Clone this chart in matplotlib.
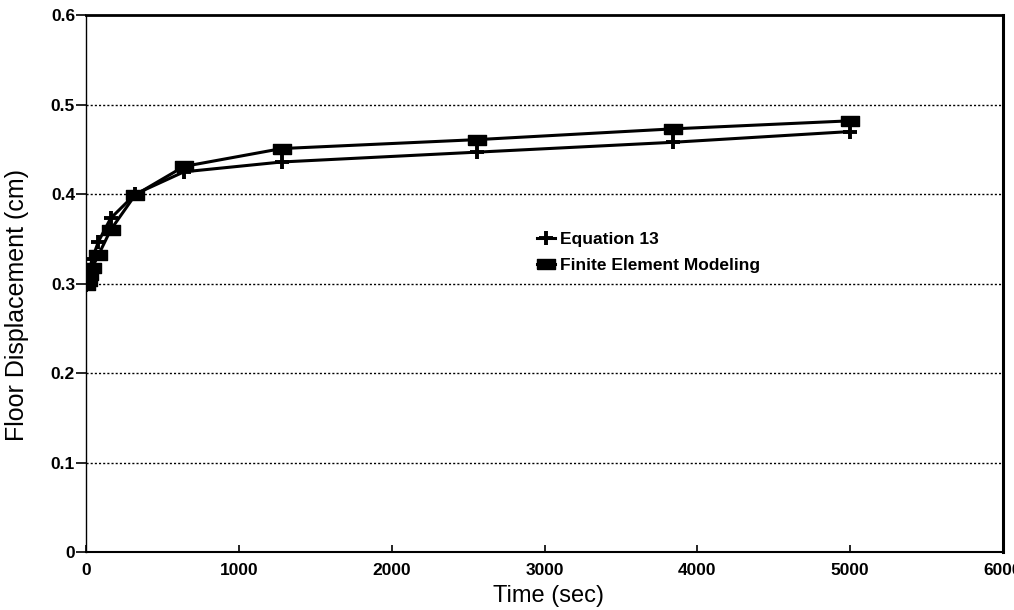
import matplotlib.pyplot as plt

# Datos
tiempo = [0, 10, 20, 40, 80, 160, 320, 640, 1280, 2560, 3840, 5000]
ecuacion_13 = [0.298, 0.305, 0.315, 0.328, 0.347, 0.373, 0.400, 0.425, 0.436, 0.447, 0.458, 0.470]
elementos_finitos = [0.298, 0.303, 0.310, 0.318, 0.332, 0.360, 0.399, 0.431, 0.451, 0.461, 0.473, 0.482]

x_ticks = [0, 1000, 2000, 3000, 4000, 5000, 6000]
y_ticks = [0, 0.1, 0.2, 0.3, 0.4, 0.5, 0.6]
y_labels = ['0', '0.1', '0.2', '0.3', '0.4', '0.5', '0.6']

plt.rcParams['font.family'] = ['Liberation Sans', 'DejaVu Sans']

fig = plt.figure(figsize=(10.14, 6.10), dpi=100)
ax = fig.add_axes([0.085, 0.095, 0.904, 0.880])

# marcador rectangular (mas ancho que alto)
rect = [(-1, -0.55), (1, -0.55), (1, 0.55), (-1, 0.55), (-1, -0.55)]

ax.plot(tiempo, ecuacion_13, color='black', lw=2.2, marker='+', markersize=10,
        markeredgewidth=2.8, label='Equation 13', zorder=3)
ax.plot(tiempo, elementos_finitos, color='black', lw=2.2, marker=rect, markersize=13,
        label='Finite Element Modeling', zorder=3)

ax.set_xlim(0, 6000)
ax.set_ylim(0, 0.6)
ax.set_xticks(x_ticks)
ax.set_xticklabels([str(t) for t in x_ticks], fontweight='bold', fontsize=12.5)
ax.set_yticks(y_ticks)
ax.set_yticklabels(y_labels, fontweight='bold', fontsize=12.5)
ax.tick_params(axis='y', direction='out', length=7, width=1.2, pad=1)
ax.tick_params(axis='x', direction='in', length=5, width=1.2, pad=8)

# Lineas horizontales punteadas
for yv in y_ticks[1:-1]:
    ax.axhline(yv, color='black', lw=1.0, ls=(0, (1.5, 1.5)), zorder=1)

ax.spines['top'].set_linewidth(2.0)
ax.spines['right'].set_linewidth(2.2)
ax.spines['left'].set_linewidth(1.0)
ax.spines['bottom'].set_linewidth(1.5)

ax.set_xlabel('Time (sec)', fontsize=17)
ax.set_ylabel('Floor Displacement (cm)', fontsize=18)
ax.xaxis.set_label_coords(0.504, -0.062)
ax.yaxis.set_label_coords(-0.062, 0.46)

ax.legend(loc='upper left', bbox_to_anchor=(0.475, 0.625), frameon=False,
          handlelength=1.0, handletextpad=0.3, labelspacing=0.6,
          prop={'weight': 'bold', 'size': 12.5})

plt.savefig('out.png', dpi=100)
plt.close()
